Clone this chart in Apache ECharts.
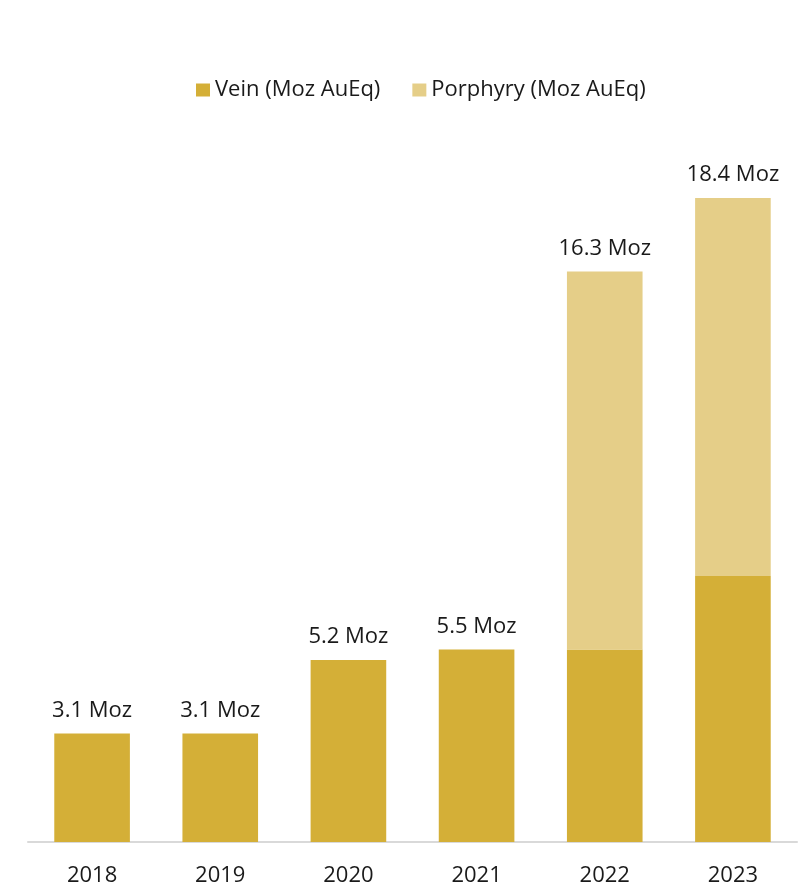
<!DOCTYPE html>
<html>
<head>
<meta charset="utf-8">
<script src="https://cdn.jsdelivr.net/npm/echarts@6/dist/echarts.min.js"></script>
<style>html,body{margin:0;padding:0;background:#fff;}#c{width:799px;height:889px;}</style>
</head>
<body>
<div id="c"></div>
<script>
const years = ['2018', '2019', '2020', '2021', '2022', '2023'];
const vein = [3.1, 3.1, 5.2, 5.5, 5.5, 7.6];
const porphyry = [0, 0, 0, 0, 10.8, 10.8];
const totalLabels = ['3.1 Moz', '3.1 Moz', '5.2 Moz', '5.5 Moz', '16.3 Moz', '18.4 Moz'];

const font = 'Open Sans';
const chart = echarts.init(document.getElementById('c'));
chart.setOption({
  animation: false,
  legend: {
    top: 74,
    left: 191,
    itemWidth: 14,
    itemHeight: 13,
    itemGap: 32,
    icon: 'rect',
    textStyle: { fontFamily: font, fontSize: 22, color: '#1a1a1a' },
    data: ['Vein (Moz AuEq)', 'Porphyry (Moz AuEq)']
  },
  grid: { left: 28, right: 2, top: 142, bottom: 47 },
  xAxis: {
    type: 'category',
    data: years,
    axisLine: { lineStyle: { color: '#d9d9d9', width: 2 } },
    axisTick: { show: false },
    axisLabel: { fontFamily: font, fontSize: 22, color: '#1a1a1a', margin: 23 }
  },
  yAxis: {
    type: 'value', min: 0, max: 20,
    show: false, splitLine: { show: false }
  },
  series: [
    {
      name: 'Vein (Moz AuEq)', type: 'bar', stack: 't', data: vein,
      barWidth: '59%',
      itemStyle: { color: '#D4AF37' }
    },
    {
      name: 'Porphyry (Moz AuEq)', type: 'bar', stack: 't', data: porphyry,
      barWidth: '59%',
      itemStyle: { color: '#E5CE88' },
      label: {
        show: true, position: 'top', distance: 12,
        fontFamily: font, fontSize: 22, color: '#1a1a1a',
        formatter: p => totalLabels[p.dataIndex]
      }
    }
  ]
});
</script>
</body>
</html>
